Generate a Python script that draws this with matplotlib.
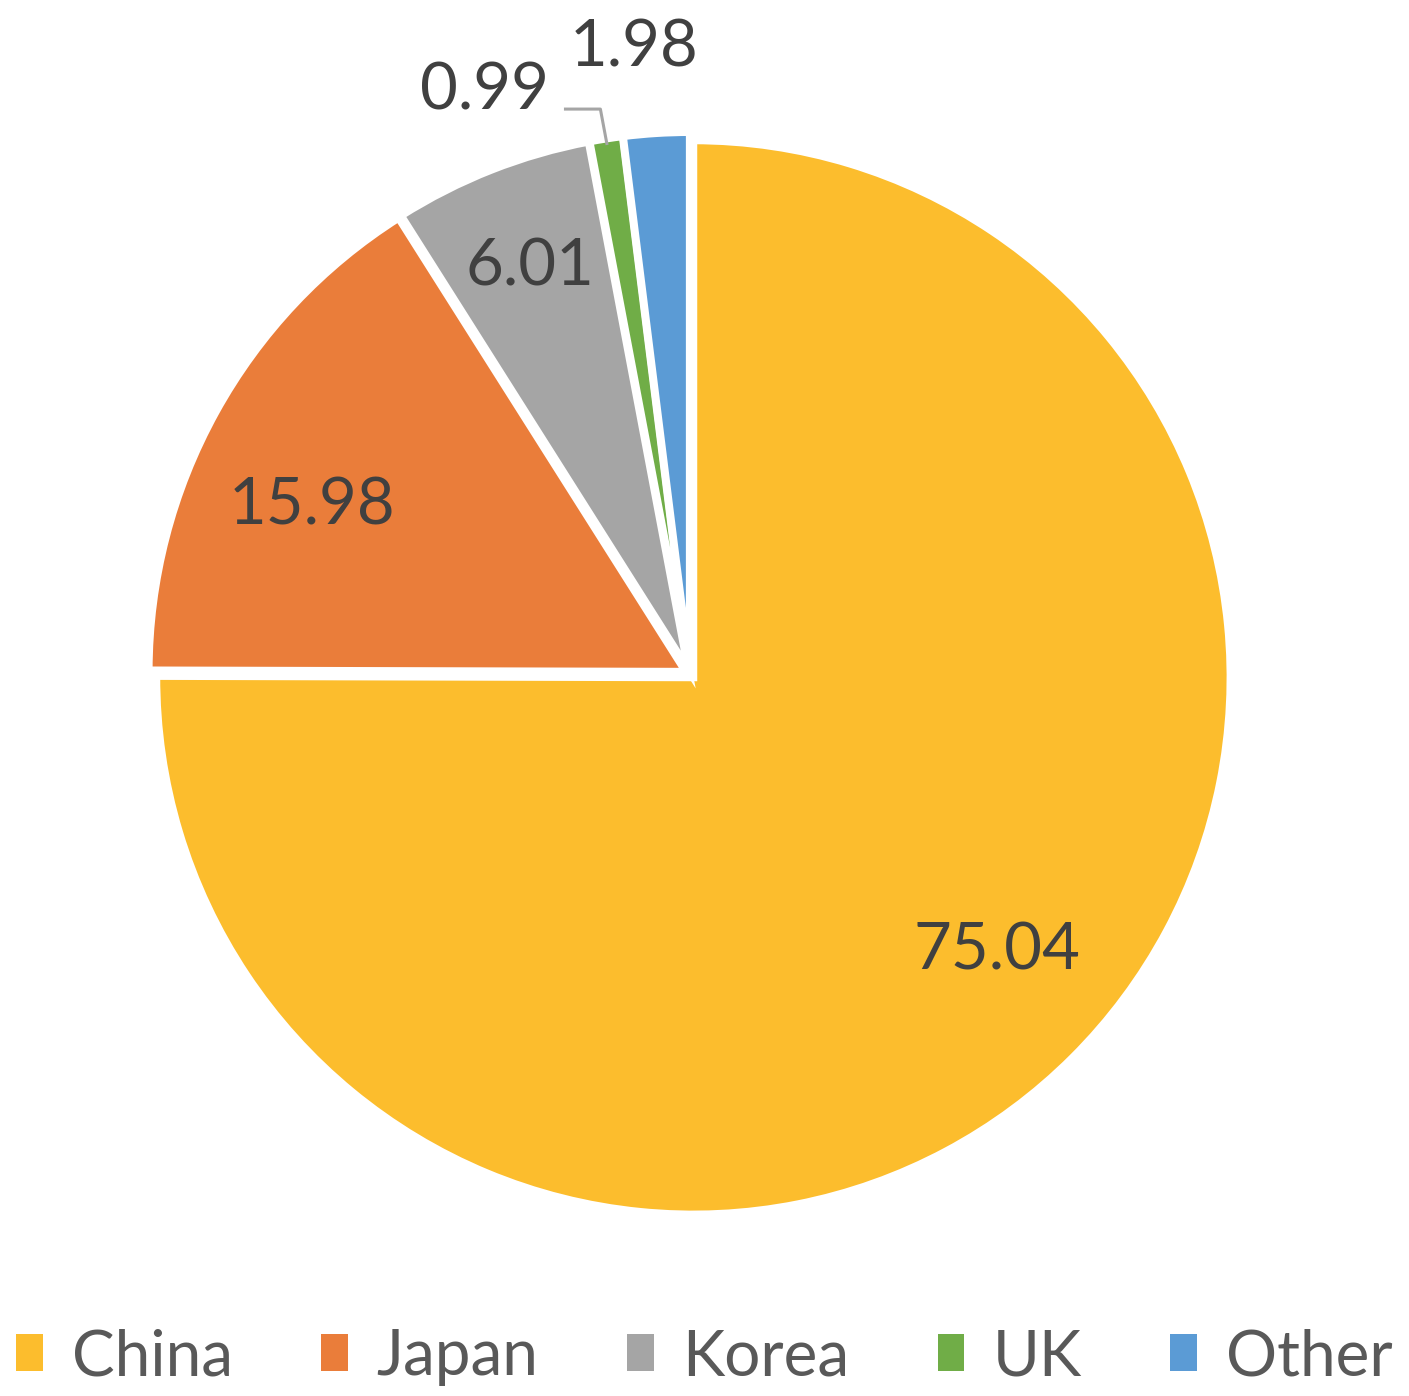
import numpy as np
import matplotlib
matplotlib.use("Agg")
import matplotlib.pyplot as plt
from matplotlib.patches import Patch

categories = ["China", "Japan", "Korea", "UK", "Other"]
values = [75.04, 15.98, 6.01, 0.99, 1.98]
labels = ["75.04", "15.98", "6.01", "0.99", "1.98"]
colors = ["#FCBD2D", "#EA7D3A", "#A5A5A5", "#70AD47", "#5B9BD5"]

plt.rcParams['font.family'] = ['Lato', 'DejaVu Sans']

W, H = 1409, 1396
fig = plt.figure(figsize=(W / 100, H / 100), dpi=100)
ax = fig.add_axes([0, 0, 1, 1])

wedges, _ = ax.pie(values, colors=colors, startangle=90, counterclock=False,
                   explode=[0.009] * len(values), radius=1.0,
                   wedgeprops=dict(edgecolor="white", linewidth=5.5))

# map data to pixels: center at (690, 674) px, R = 537 px
cx, cy, R = 690, 674, 537
ax.set_xlim(-cx / R, (W - cx) / R)
ax.set_ylim(-(H - cy) / R, cy / R)
ax.set_aspect('auto')
ax.axis('off')

# label placement (radius factor, angle offset in degrees) per slice
lab_r = [0.77, 0.77, 0.815, None, None]
lab_da = [3.0, 5.0, 0.0, 0.0, 0.0]
txt_color = "#404040"
fs = 47
for i, w in enumerate(wedges):
    mid = np.deg2rad((w.theta1 + w.theta2) / 2 + lab_da[i])
    if categories[i] == "UK":
        # outside with leader line
        p0 = (1.0 * np.cos(mid), 1.0 * np.sin(mid))
        p1 = (p0[0] - 0.012, 1.052)
        p2 = (p1[0] - 0.065, 1.052)
        ax.plot([p0[0], p1[0], p2[0]], [p0[1], p1[1], p2[1]], color="#A5A5A5", lw=2.2)
        ax.text(p2[0] - 0.03, 1.085, labels[i], ha="right", va="center",
                fontsize=fs, color=txt_color)
    elif categories[i] == "Other":
        ax.text(-0.105, 1.165, labels[i], ha="center", va="center",
                fontsize=fs, color=txt_color)
    else:
        r = lab_r[i]
        ax.text(r * np.cos(mid), r * np.sin(mid), labels[i], ha="center", va="center",
                fontsize=fs, color=txt_color)

handles = [Patch(facecolor=c, edgecolor="none") for c in colors]
leg = fig.legend(handles, categories, loc="center", bbox_to_anchor=(0.5, 1 - 1357 / H),
                 ncol=5, frameon=False, fontsize=46, handlelength=0.42, handleheight=0.5,
                 handletextpad=0.45, columnspacing=1.38, labelcolor="#595959",
                 borderaxespad=0, borderpad=0)

fig.savefig("out.png", dpi=100)
